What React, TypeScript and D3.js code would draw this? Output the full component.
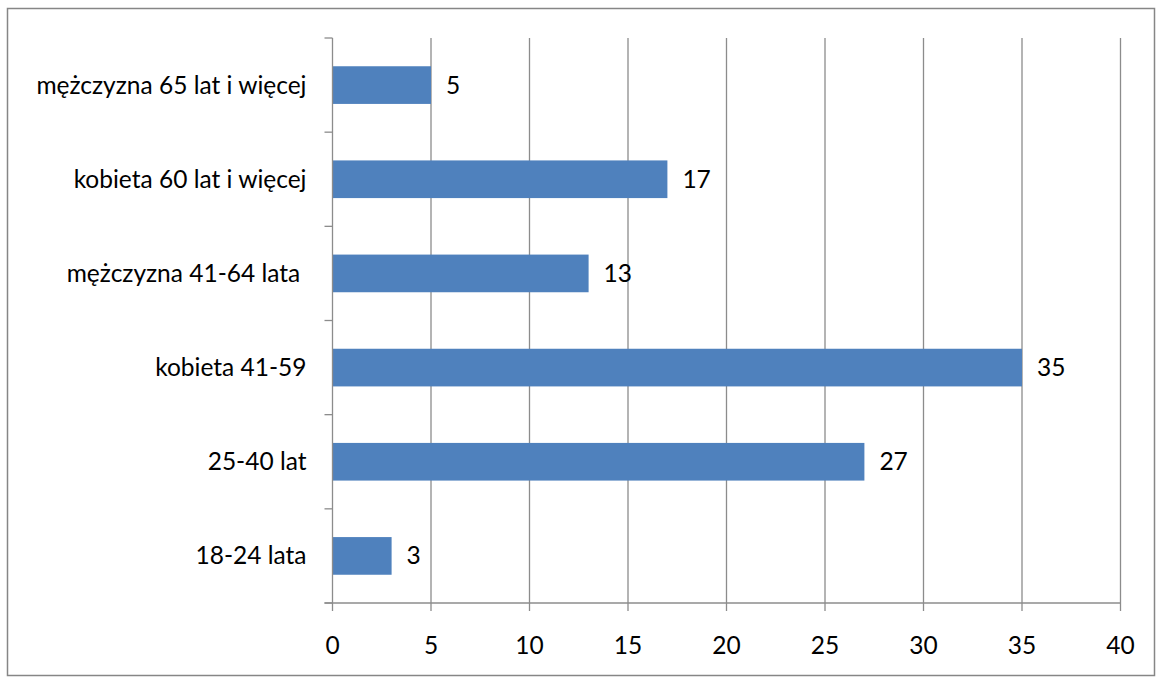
import React, { useRef, useEffect } from 'react';
import * as d3 from 'd3';

// categories top to bottom
const categories = [
  'mężczyzna 65 lat i więcej',
  'kobieta 60 lat i więcej',
  'mężczyzna 41-64 lata ',
  'kobieta 41-59',
  '25-40 lat',
  '18-24 lata',
];
const values = [5, 17, 13, 35, 27, 3];
const xTicks = [0, 5, 10, 15, 20, 25, 30, 35, 40];

const W = 1163;
const H = 684;

const App: React.FC = () => {
  const svgRef = useRef<SVGSVGElement | null>(null);

  useEffect(() => {
    const svg = d3.select(svgRef.current);
    svg.selectAll('*').remove();

    const font = 'Lato, Carlito, Calibri, sans-serif';
    const fontSize = 24.5;
    const left = 332.5;
    const right = 1120.5;
    const top = 38;
    const bottom = 603;

    // chart border
    svg.append('rect')
      .attr('x', 7.5)
      .attr('y', 8.5)
      .attr('width', 1147)
      .attr('height', 667)
      .attr('fill', '#fff')
      .attr('stroke', '#868686')
      .attr('stroke-width', 1.5);

    const x = d3.scaleLinear().domain([0, 40]).range([left, right]);
    const y = d3.scaleBand<string>()
      .domain(categories)
      .range([top, bottom])
      .paddingInner(0.6)
      .paddingOuter(0.3);

    const g = svg.append('g');

    // vertical gridlines
    g.selectAll('.grid')
      .data(xTicks.slice(1))
      .enter()
      .append('line')
      .attr('x1', d => x(d))
      .attr('x2', d => x(d))
      .attr('y1', top)
      .attr('y2', bottom)
      .attr('stroke', '#8c8c8c')
      .attr('stroke-width', 1.3);

    // bars
    g.selectAll('.bar')
      .data(values)
      .enter()
      .append('rect')
      .attr('x', x(0))
      .attr('y', (d, i) => y(categories[i])!)
      .attr('width', d => x(d) - x(0))
      .attr('height', y.bandwidth())
      .attr('fill', '#4f81bd');

    // value labels
    g.selectAll('.val')
      .data(values)
      .enter()
      .append('text')
      .attr('x', d => x(d) + 15)
      .attr('y', (d, i) => y(categories[i])! + y.bandwidth() / 2)
      .attr('dy', '0.35em')
      .attr('font-family', font)
      .attr('font-size', fontSize)
      .attr('fill', '#000')
      .text(d => String(d));

    // y axis
    const band = (bottom - top) / categories.length;
    g.append('line')
      .attr('x1', left).attr('x2', left)
      .attr('y1', top).attr('y2', bottom)
      .attr('stroke', '#8c8c8c').attr('stroke-width', 1.3);
    g.selectAll('.ytick')
      .data(d3.range(categories.length + 1))
      .enter()
      .append('line')
      .attr('x1', left - 8).attr('x2', left)
      .attr('y1', d => top + d * band)
      .attr('y2', d => top + d * band)
      .attr('stroke', '#8c8c8c').attr('stroke-width', 1.3);
    g.selectAll('.ylabel')
      .data(categories)
      .enter()
      .append('text')
      .attr('x', left - 26)
      .attr('y', d => y(d)! + y.bandwidth() / 2)
      .attr('dy', '0.35em')
      .attr('text-anchor', 'end')
      .attr('font-family', font)
      .attr('font-size', fontSize)
      .attr('fill', '#000')
      .style('white-space', 'pre')
      .text(d => d);

    // x axis
    g.append('line')
      .attr('x1', left - 8).attr('x2', right)
      .attr('y1', bottom).attr('y2', bottom)
      .attr('stroke', '#8c8c8c').attr('stroke-width', 1.3);
    g.selectAll('.xtick')
      .data(xTicks)
      .enter()
      .append('line')
      .attr('x1', d => x(d)).attr('x2', d => x(d))
      .attr('y1', bottom).attr('y2', bottom + 8)
      .attr('stroke', '#8c8c8c').attr('stroke-width', 1.3);
    g.selectAll('.xlabel')
      .data(xTicks)
      .enter()
      .append('text')
      .attr('x', d => x(d))
      .attr('y', 645)
      .attr('dy', '0.35em')
      .attr('text-anchor', 'middle')
      .attr('font-family', font)
      .attr('font-size', fontSize)
      .attr('fill', '#000')
      .text(d => String(d));
  }, []);

  return (
    <div style={{ position: 'absolute', left: 0, top: 0 }}>
      <svg ref={svgRef} width={W} height={H} style={{ display: 'block' }}></svg>
    </div>
  );
};

export default App;
